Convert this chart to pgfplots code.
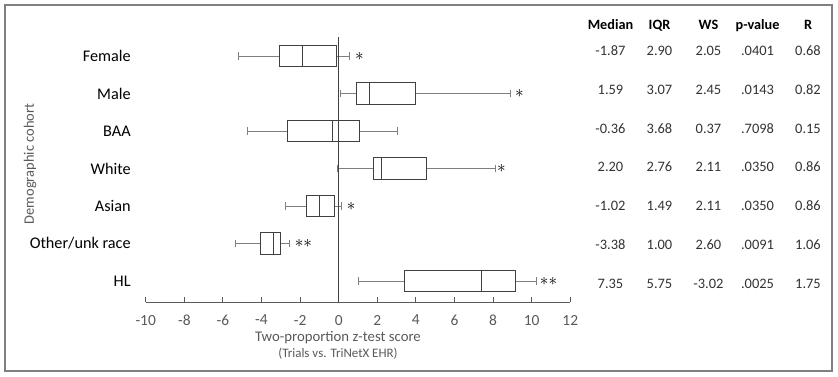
\documentclass[border=0pt]{standalone}
\usepackage{fontspec}
\setmainfont{Carlito}
\usepackage{pgfplots}
\pgfplotsset{compat=1.18}
\usepgfplotslibrary{statistics}
\definecolor{boxc}{HTML}{404040}
\definecolor{whc}{HTML}{7F7F7F}
\definecolor{txtg}{HTML}{595959}
\definecolor{frm}{HTML}{808080}
\begin{document}
\begin{tikzpicture}[x=1bp,y=1bp]
\path[use as bounding box] (0,0) rectangle (838,376);
\draw[draw=frm, line width=1.3bp] (5,5) rectangle (832,371);
\begin{axis}[
  at={(145.7bp,74bp)}, anchor=south west,
  scale only axis, width=424.6bp, height=265bp,
  xmin=-10, xmax=12, ymin=0.44, ymax=7.507,
  clip=false,
  axis x line*=bottom, axis y line*=left,
  y axis line style={draw=none},
  x axis line style={draw=txtg, line width=0.9bp},
  xtick={-10,-8,...,12},
  xtick align=inside,
  major tick length=5bp,
  xtick style={draw=txtg, line width=0.9bp},
  ytick={1,...,7},
  yticklabels={HL,Other/unk race,Asian,White,BAA,Male,Female},
  ytick style={draw=none},
  /pgf/number format/assume math mode=true,
  xticklabel style={font=\fontsize{15.5}{15.5}\selectfont, text=txtg, yshift=-9.5bp},
  yticklabel style={font=\fontsize{16.3}{16.3}\selectfont, text=black, xshift=-11.5bp},
  boxplot/draw direction=x,
  boxplot/every box/.style={draw=boxc, fill=white, line width=0.9bp},
  boxplot/every median/.style={draw=boxc, line width=0.9bp},
  boxplot/every whisker/.style={draw=whc, line width=0.9bp},
]
% Female
\addplot[boxc, boxplot prepared={lower whisker=-5.19, lower quartile=-3.06, median=-1.87, upper quartile=-0.14, upper whisker=0.56, draw position=7, box extend=0.57, whisker extend=0.2}] coordinates {};
% Male
\addplot[boxc, boxplot prepared={lower whisker=0.09, lower quartile=0.92, median=1.61, upper quartile=3.99, upper whisker=8.92, draw position=6, box extend=0.57, whisker extend=0.2}] coordinates {};
% BAA
\addplot[boxc, boxplot prepared={lower whisker=-4.72, lower quartile=-2.63, median=-0.33, upper quartile=1.06, upper whisker=3.06, draw position=5, box extend=0.57, whisker extend=0.2}] coordinates {};
% White
\addplot[boxc, boxplot prepared={lower whisker=-0.08, lower quartile=1.82, median=2.21, upper quartile=4.57, upper whisker=8.10, draw position=4, box extend=0.57, whisker extend=0.2}] coordinates {};
% Asian
\addplot[boxc, boxplot prepared={lower whisker=-2.77, lower quartile=-1.69, median=-1.00, upper quartile=-0.22, upper whisker=0.12, draw position=3, box extend=0.57, whisker extend=0.2}] coordinates {};
% Other/unk race
\addplot[boxc, boxplot prepared={lower whisker=-5.33, lower quartile=-4.03, median=-3.36, upper quartile=-3.02, upper whisker=-2.56, draw position=2, box extend=0.57, whisker extend=0.2}] coordinates {};
% HL
\addplot[boxc, boxplot prepared={lower whisker=1.04, lower quartile=3.41, median=7.40, upper quartile=9.17, upper whisker=10.25, draw position=1, box extend=0.57, whisker extend=0.2}] coordinates {};
% zero line
\addplot[boxc, line width=1.2bp, mark=none] coordinates {(0,0.44) (0,7.507)};
% single stars
\addplot[only marks, mark=none, nodes near coords={$\ast$},
  every node near coord/.style={anchor=center, font=\fontsize{19}{19}\selectfont, text=black}]
  coordinates {(1.07,7) (9.37,6) (8.43,4) (0.64,3)};
% double stars
\addplot[only marks, mark=none, nodes near coords={${\ast}{\ast}$},
  every node near coord/.style={anchor=center, font=\fontsize{19}{19}\selectfont, text=black}]
  coordinates {(-1.83,2) (10.87,1)};
\end{axis}
% axis titles
\node[text=txtg, font=\fontsize{14.8}{14.8}\selectfont, anchor=center] at (338,{376-338}) {Two-proportion z-test score};
\node[text=txtg, font=\fontsize{13}{13}\selectfont, anchor=center] at (338,{376-354}) {(Trials vs. TriNetX EHR)};
\node[text=txtg, font=\fontsize{14.5}{14.5}\selectfont, rotate=90, anchor=center] at (30,{376-164}) {Demographic cohort};
% table header
\foreach \xx/\t in {610.5/Median, 659.5/IQR, 708.5/WS, 757.5/p-value, 808/R}
  \node[anchor=base, font=\fontsize{14.3}{14.3}\selectfont\bfseries, text=black, inner sep=0] at (\xx,{376-24.5-4.5}) {\t};
% table rows
\foreach \i/\a/\b/\c/\d/\e in {0/-1.87/2.90/2.05/.0401/0.68, 1/1.59/3.07/2.45/.0143/0.82, 2/-0.36/3.68/0.37/.7098/0.15, 3/2.20/2.76/2.11/.0350/0.86, 4/-1.02/1.49/2.11/.0350/0.86, 5/-3.38/1.00/2.60/.0091/1.06, 6/7.35/5.75/-3.02/.0025/1.75}{
  \pgfmathsetmacro{\yy}{376-50.7-38.9*\i-4.5}
  \node[anchor=base, font=\fontsize{14.5}{14.5}\selectfont, text=black!80, inner sep=0] at (610.5,\yy) {\a};
  \node[anchor=base, font=\fontsize{14.5}{14.5}\selectfont, text=black!80, inner sep=0] at (659.5,\yy) {\b};
  \node[anchor=base, font=\fontsize{14.5}{14.5}\selectfont, text=black!80, inner sep=0] at (708.5,\yy) {\c};
  \node[anchor=base, font=\fontsize{14.5}{14.5}\selectfont, text=black!80, inner sep=0] at (757.5,\yy) {\d};
  \node[anchor=base, font=\fontsize{14.5}{14.5}\selectfont, text=black!80, inner sep=0] at (808,\yy) {\e};
}
\end{tikzpicture}
\end{document}
